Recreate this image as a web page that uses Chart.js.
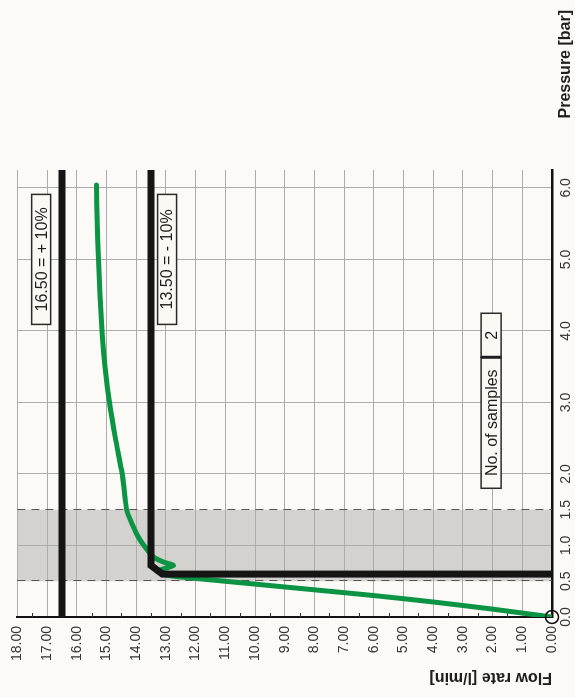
<!DOCTYPE html>
<html lang="en">
<head>
<meta charset="UTF-8">
<title>Flow rate / Pressure</title>
<script src="https://cdn.jsdelivr.net/npm/chart.js@4.4.1/dist/chart.umd.min.js"></script>
<style>
  html, body { margin: 0; padding: 0; background: #fcfaf6; overflow: hidden; }
  /* the chart is drawn lying down and turned 90 degrees left */
  #wrap { position: absolute; left: 0; top: 0; width: 697px; height: 575px;
    transform-origin: 0 0; transform: translateY(697px) rotate(-90deg); }
</style>
</head>
<body>
<div id="wrap"><canvas id="grafico" width="697" height="575"></canvas></div>

<script>
  // x = pressure [bar], y = flow rate [l/min]
  const pressureTicks = [0, 0.5, 1, 1.5, 2, 3, 4, 5, 6];
  const flowTicks = [0, 1, 2, 3, 4, 5, 6, 7, 8, 9, 10, 11, 12, 13, 14, 15, 16, 17, 18];
  const bandPressure = [0.5, 1.5];

  // measured curve
  const curvePressure = [6.04, 5.5, 5.0, 4.5, 4.0, 3.5, 3.0, 2.5, 2.0, 1.8, 1.64, 1.5, 1.36, 1.12, 0.97, 0.84, 0.77, 0.72,
    0.64, 0.58, 0.54, 0.46, 0.38, 0.30, 0.21, 0.11, 0];
  const curveFlow = [15.34, 15.31, 15.27, 15.22, 15.15, 15.05, 14.90, 14.70, 14.47, 14.41, 14.37, 14.32, 14.20, 13.93, 13.69, 13.42, 13.09, 12.75,
    13.30, 12.90, 12.00, 10.00, 8.00, 6.00, 4.00, 2.00, 0];

  // +10% limit
  const upperPressure = [0, 6.25];
  const upperFlow = [16.5, 16.5];

  // -10% limit
  const lowerPressure = [6.25, 0.72, 0.60, 0.60];
  const lowerFlow = [13.5, 13.5, 13.12, 0];

  const startPressure = [0];
  const startFlow = [0];

  const upperText = '16.50 = + 10%';
  const lowerText = '13.50 = - 10%';
  const samplesText = 'No. of samples';
  const samplesCount = '2';

  function pts(xs, ys) {
    return xs.map((v, i) => ({ x: v, y: ys[i] }));
  }

  const FONT = 'Liberation Sans, Arial, sans-serif';

  function box(ctx, cx, cy, text, w, h) {
    ctx.fillStyle = '#fbf9f4';
    ctx.fillRect(cx - w / 2, cy - h / 2, w, h);
    ctx.strokeStyle = '#2a2a2a';
    ctx.lineWidth = 1.5;
    ctx.strokeRect(cx - w / 2, cy - h / 2, w, h);
    ctx.fillStyle = '#1e1e1e';
    ctx.textAlign = 'center';
    ctx.textBaseline = 'middle';
    ctx.fillText(text, cx, cy + 1);
  }

  const extras = {
    id: 'extras',
    beforeDraw(chart) {
      const { ctx, chartArea: a, scales: { x } } = chart;
      const x0 = x.getPixelForValue(bandPressure[0]);
      const x1 = x.getPixelForValue(bandPressure[1]);
      ctx.save();
      ctx.fillStyle = '#d4d2cf';
      ctx.fillRect(x0, a.top, x1 - x0, a.bottom - a.top);
      ctx.restore();
    },
    beforeDatasetsDraw(chart) {
      const { ctx, chartArea: a, scales: { x, y } } = chart;
      ctx.save();
      // dashed edges of the band
      ctx.strokeStyle = '#555';
      ctx.lineWidth = 1;
      ctx.setLineDash([8, 6]);
      bandPressure.forEach(p => {
        const px = Math.round(x.getPixelForValue(p)) + 0.5;
        ctx.beginPath();
        ctx.moveTo(px, a.top);
        ctx.lineTo(px, a.bottom);
        ctx.stroke();
      });
      ctx.setLineDash([]);
      // half step ticks on the flow axis
      ctx.strokeStyle = '#333';
      for (let i = 0; i < flowTicks.length - 1; i++) {
        const py = Math.round(y.getPixelForValue(flowTicks[i] + 0.5)) + 0.5;
        ctx.beginPath();
        ctx.moveTo(a.left, py);
        ctx.lineTo(a.left + 4, py);
        ctx.stroke();
      }
      ctx.restore();
    },
    afterDatasetsDraw(chart) {
      const { ctx, scales: { x, y } } = chart;
      ctx.save();
      ctx.font = '16px ' + FONT;
      box(ctx, x.getPixelForValue(5.0), y.getPixelForValue(17.2), upperText, 130, 19);
      box(ctx, x.getPixelForValue(5.0), y.getPixelForValue(12.96), lowerText, 130, 19);

      // samples box
      const left = x.getPixelForValue(1.8);
      const cy = y.getPixelForValue(2.05);
      const w1 = 131, w2 = 44, h = 20;
      box(ctx, left + w1 / 2, cy, samplesText, w1, h);
      box(ctx, left + w1 + w2 / 2, cy, samplesCount, w2, h);
      ctx.fillStyle = '#1e1e1e';
      ctx.fillRect(left + w1 - 1.5, cy - h / 2, 3, h);

      // pressure axis title, next to the tick labels
      ctx.font = 'bold 16px ' + FONT;
      ctx.fillStyle = '#1e1e1e';
      ctx.textAlign = 'right';
      ctx.textBaseline = 'middle';
      ctx.fillText('Pressure [bar]', chart.width - 10, x.top + 14);
      ctx.restore();
    }
  };

  new Chart(document.getElementById('grafico'), {
    type: 'scatter',
    data: {
      datasets: [
        {
          data: pts(startPressure, startFlow),
          pointRadius: 6.5, pointBackgroundColor: 'rgba(0,0,0,0)',
          pointBorderColor: '#111', pointBorderWidth: 1.5, clip: false
        },
        {
          data: pts(lowerPressure, lowerFlow), showLine: true, pointRadius: 0,
          borderColor: '#151515', borderWidth: 7, borderJoinStyle: 'miter', tension: 0
        },
        {
          data: pts(upperPressure, upperFlow), showLine: true, pointRadius: 0,
          borderColor: '#151515', borderWidth: 7, tension: 0
        },
        {
          data: pts(curvePressure, curveFlow), showLine: true, pointRadius: 0,
          borderColor: '#0b9444', borderWidth: 5, borderJoinStyle: 'round', borderCapStyle: 'round', tension: 0.25
        }
      ]
    },
    options: {
      responsive: false,
      animation: false,
      layout: { padding: { top: 16, right: 170, left: 0, bottom: 0 } },
      plugins: { legend: { display: false }, tooltip: { enabled: false } },
      scales: {
        x: {
          type: 'linear', min: 0, max: 6.25,
          afterBuildTicks(s) { s.ticks = pressureTicks.map(v => ({ value: v })); },
          afterFit(s) { s.height = 23; },
          ticks: {
            padding: 6, color: '#333', maxRotation: 0, autoSkip: false,
            font: { family: FONT, size: 14 },
            callback: v => Number(v).toFixed(1)
          },
          grid: {
            color: c => (c.tick && c.tick.value % 1 !== 0) ? 'rgba(0,0,0,0)' : '#acacac',
            drawTicks: false, lineWidth: 1
          },
          border: { color: '#111', width: 2.5 }
        },
        y: {
          type: 'linear', min: 0, max: 18,
          afterBuildTicks(s) { s.ticks = flowTicks.map(v => ({ value: v })); },
          afterFit(s) { s.width = 80; },
          ticks: {
            padding: 9, color: '#333', autoSkip: false,
            font: { family: FONT, size: 14 },
            callback: v => Number(v).toFixed(2)
          },
          grid: { color: '#acacac', drawTicks: false, lineWidth: 1 },
          border: { color: '#111', width: 2 },
          title: {
            display: true, text: 'Flow rate [l/min]', align: 'start', color: '#1e1e1e',
            font: { family: FONT, size: 16, weight: 'bold' },
            padding: { top: 10, bottom: 0 }
          }
        }
      }
    },
    plugins: [extras]
  });
</script>
</body>
</html>
